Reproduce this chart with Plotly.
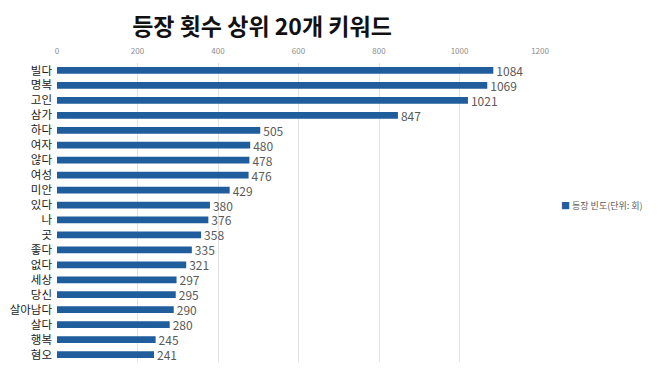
import plotly.graph_objects as go

categories = ["빌다", "명복", "고인", "삼가", "하다", "여자", "않다", "여성", "미안", "있다",
              "나", "곳", "좋다", "없다", "세상", "당신", "살아남다", "살다", "행복", "혐오"]
values = [1084, 1069, 1021, 847, 505, 480, 478, 476, 429, 380,
          376, 358, 335, 321, 297, 295, 290, 280, 245, 241]
tick_vals = [0, 200, 400, 600, 800, 1000, 1200]
legend_label = "등장 빈도(단위: 회)"
bar_color = "#1F5D9C"

fig = go.Figure(go.Bar(
    x=values, y=categories, orientation="h",
    marker=dict(color=bar_color, line=dict(width=0)),
    text=[str(v) for v in values], textposition="outside",
    constraintext="none",
    textfont=dict(family="Noto Sans CJK KR", size=12, color="#5A5A5A"),
    cliponaxis=False, showlegend=False,
))

fig.update_layout(
    width=658, height=369,
    margin=dict(l=49, r=126, t=55, b=15),
    paper_bgcolor="white", plot_bgcolor="white",
    title=dict(text="<b>등장 횟수 상위 20개 키워드</b>", x=0.386, xanchor="center",
               y=0.948, yanchor="middle",
               font=dict(family="Noto Sans CJK KR", size=23, color="#111111")),
    bargap=0.55,
    xaxis=dict(side="top", range=[0, 1200], tickvals=tick_vals, showgrid=True,
               gridcolor="#E3E3E3", gridwidth=1, zeroline=False, automargin=False,
               tickfont=dict(family="Noto Sans CJK KR", size=8, color="#8C8C8C"),
               ticks="", showline=False, ticklabelstandoff=6),
    yaxis=dict(autorange="reversed", showgrid=False, ticks="", ticklen=0, automargin=False,
               tickfont=dict(family="Noto Sans CJK KR", size=11.5, color="#222222"),
               showline=False, ticklabelstandoff=4),
    annotations=[dict(
        text=f"<span style='color:{bar_color}'>■</span> {legend_label}",
        xref="paper", yref="paper", x=1.04, y=0.525, xanchor="left", yanchor="middle",
        showarrow=False, font=dict(family="Noto Sans CJK KR", size=9, color="#5A5A5A"))],
    font=dict(family="Noto Sans CJK KR"),
)

fig.write_html("out.html")
